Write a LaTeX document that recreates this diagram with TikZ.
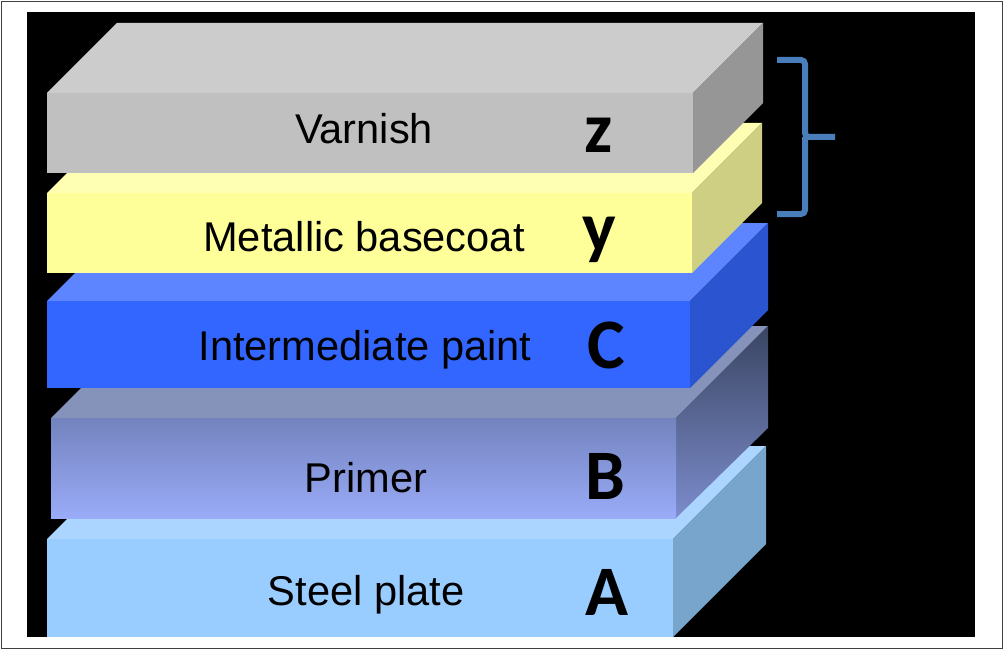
\documentclass[tikz,border=0pt]{standalone}
\usepackage{fontspec}
\setmainfont{Liberation Sans}
\newfontfamily\layerfont{Carlito}
\usepackage{tikz}
\definecolor{VarnishFront}{RGB}{192,192,192}
\definecolor{VarnishTop}{RGB}{204,204,204}
\definecolor{VarnishSide}{RGB}{150,150,150}
\definecolor{BaseFront}{RGB}{255,255,153}
\definecolor{BaseTop}{RGB}{255,255,180}
\definecolor{BaseSide}{RGB}{207,207,132}
\definecolor{InterFront}{RGB}{51,102,255}
\definecolor{InterTop}{RGB}{92,133,255}
\definecolor{InterSide}{RGB}{43,85,208}
\definecolor{PrimerTop}{RGB}{133,146,186}
\definecolor{PrimerFrontTop}{RGB}{115,131,190}
\definecolor{PrimerFrontBot}{RGB}{154,171,248}
\definecolor{PrimerSideTop}{RGB}{58,69,98}
\definecolor{PrimerSideBot}{RGB}{124,140,204}
\definecolor{SteelFront}{RGB}{153,204,255}
\definecolor{SteelTop}{RGB}{171,213,255}
\definecolor{SteelSide}{RGB}{120,165,203}
\definecolor{BraceBlue}{RGB}{74,126,187}

\begin{document}
\begin{tikzpicture}[
    x=1pt, y=-1pt,
    layertext/.style={
        anchor=base,
        font=\fontsize{41.6}{44}\selectfont
    },
    layerletter/.style={
        anchor=base,
        font=\fontsize{71}{71}\layerfont\bfseries
    },
    brace/.style={
        draw=BraceBlue,
        line width=6pt,
        rounded corners=4pt
    }
]

\useasboundingbox (0,0) rectangle (1004,650);

% frame and black backdrop
\draw[black!75, line width=1.2pt] (1.5,1.5) rectangle (1002.5,648.5);
\fill[black] (27,12) rectangle (975,637);

% =========================
% steel plate (bottom layer)
% =========================
\fill[SteelTop] (47,539) -- (140,446) -- (766,446) -- (673,539) -- cycle;
\fill[SteelSide] (673,539) -- (766,446) -- (766,544) -- (673,637) -- cycle;
\fill[SteelFront] (47,539) rectangle (673,637);

% =========================
% primer
% =========================
\fill[PrimerTop] (51,418) -- (143,326) -- (768,326) -- (676,418) -- cycle;
\shade[top color=PrimerSideTop, bottom color=PrimerSideBot]
    (676,418) -- (768,326) -- (768,428) -- (676,518) -- cycle;
\shade[top color=PrimerFrontTop, bottom color=PrimerFrontBot]
    (51,418) rectangle (676,518);

% =========================
% intermediate paint
% =========================
\fill[InterTop] (47,301) -- (125,223) -- (768,223) -- (690,301) -- cycle;
\fill[InterSide] (690,301) -- (768,223) -- (768,310) -- (690,388) -- cycle;
\fill[InterFront] (47,301) rectangle (690,388);

% =========================
% metallic basecoat
% =========================
\fill[BaseTop] (47,193) -- (117,123) -- (762,123) -- (692,193) -- cycle;
\fill[BaseSide] (692,193) -- (762,123) -- (762,203) -- (692,273) -- cycle;
\fill[BaseFront] (47,193) rectangle (692,273);

% =========================
% varnish (top layer)
% =========================
\fill[VarnishTop] (47,93) -- (117,23) -- (763,23) -- (693,93) -- cycle;
\fill[VarnishSide] (693,93) -- (763,23) -- (763,103) -- (693,173) -- cycle;
\fill[VarnishFront] (47,93) rectangle (693,173);

% labels
\node[layertext] (varnish) at (364,143) {Varnish};
\node[layertext] (basecoat) at (364,251) {Metallic basecoat};
\node[layertext] (intermediate) at (365,360) {Intermediate paint};
\node[layertext] (primer) at (366,492) {Primer};
\node[layertext] (steel) at (366,605) {Steel plate};

\node[layerletter] (lz) at (599,153) {z};
\node[layerletter] (ly) at (599,251) {y};
\node[layerletter] (lc) at (606,368) {C};
\node[layerletter] (lb) at (605,499) {B};
\node[layerletter] (la) at (607,615) {A};

% brace over the two top coats
\draw[brace] (777,60) -| (805,137) -- (835,137);
\draw[brace] (777,214) -| (805,137);

\end{tikzpicture}
\end{document}
